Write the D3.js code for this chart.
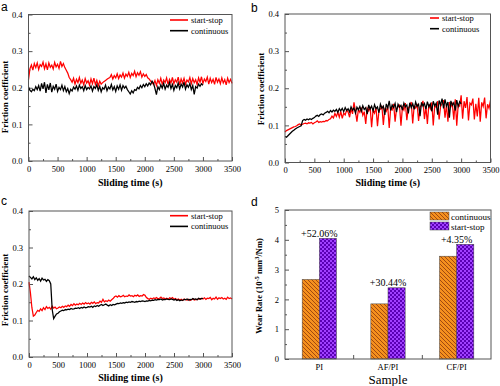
<!DOCTYPE html>
<html>
<head>
<meta charset="utf-8">
<script src="https://cdn.jsdelivr.net/npm/d3@7/dist/d3.min.js"></script>
<style>
    body { margin: 0; background: #fff; }
    text { font-family: "Liberation Serif", "Times New Roman", serif; }
    .tick text { font-size: 8.5px; fill: #000; font-family: "Liberation Serif", "Times New Roman", serif; }
    .tick line { stroke: #555; }
</style>
</head>
<body>
<div id="chart"></div>
<script>
// friction coefficient, one reading every 25 s
var timeStep = 25;

var aStartStop = [
    .222,.252,.262,.248,.266,.255,.268,.250,.263,.258,.270,.252,.265,.249,.268,.256,.262,.251,.269,.257,
    .264,.253,.272,.258,.266,.255,.248,.240,.228,.222,.215,.226,.210,.223,.214,.228,.212,.221,.208,.225,
    .213,.219,.207,.224,.211,.226,.209,.220,.205,.218,.210,.214,.217,.220,.223,.226,.228,.236,.224,.233,
    .227,.238,.225,.235,.229,.240,.226,.237,.231,.242,.228,.239,.233,.245,.230,.241,.234,.244,.229,.238,
    .231,.236,.227,.224,.218,.214,.209,.220,.206,.222,.212,.226,.210,.221,.214,.227,.209,.223,.213,.228,
    .211,.222,.215,.229,.208,.224,.213,.226,.210,.221,.216,.228,.211,.225,.214,.222,.209,.227,.215,.230,
    .212,.224,.217,.229,.210,.226,.214,.223,.209,.228,.215,.224,.211,.227,.213,.222,.208,.226,.214,.223,
    .212];
var aContinuous = [
    .202,.193,.189,.196,.192,.203,.195,.206,.191,.212,.197,.215,.186,.209,.194,.213,.188,.204,.196,.210,
    .190,.201,.195,.207,.192,.203,.189,.198,.184,.196,.191,.202,.196,.205,.193,.207,.198,.203,.192,.206,
    .195,.201,.197,.205,.191,.203,.198,.208,.193,.204,.189,.200,.196,.207,.192,.202,.197,.209,.194,.203,
    .190,.205,.196,.208,.193,.206,.199,.204,.195,.189,.183,.192,.186,.195,.193,.201,.197,.206,.200,.209,
    .203,.211,.205,.213,.208,.218,.212,.198,.181,.203,.195,.208,.199,.212,.196,.207,.201,.214,.198,.209,
    .193,.206,.200,.213,.197,.210,.202,.215,.196,.208,.201,.212,.195,.206,.182,.203,.199,.210,.204,.211,
    .207];

var bStartStop = [
    .082,.086,.088,.090,.092,.094,.096,.097,.099,.102,.104,.101,.103,.105,.106,.104,.107,.106,.108,.104,
    .107,.109,.112,.108,.110,.109,.111,.110,.113,.112,.116,.118,.125,.120,.132,.124,.135,.122,.138,.119,
    .133,.128,.141,.136,.122,.145,.131,.162,.138,.110,.143,.135,.148,.127,.137,.104,.146,.139,.150,.095,
    .141,.133,.148,.098,.139,.144,.153,.101,.144,.138,.151,.093,.147,.142,.158,.110,.145,.149,.154,.099,
    .149,.141,.160,.114,.146,.152,.163,.105,.152,.147,.158,.112,.149,.155,.166,.117,.150,.104,.157,.145,
    .162,.100,.153,.149,.165,.116,.151,.158,.168,.121,.155,.110,.163,.150,.158,.115,.170,.099,.156,.152,
    .181,.118,.165,.147,.176,.113,.160,.155,.172,.116,.158,.124,.174,.110,.162,.151,.175,.119,.157,.146,
    .168];
var bContinuous = [
    .070,.068,.072,.076,.080,.084,.087,.090,.093,.095,.097,.099,.113,.116,.114,.117,.115,.118,.116,.119,
    .121,.125,.127,.124,.129,.131,.128,.133,.135,.138,.134,.140,.136,.141,.138,.143,.135,.145,.139,.146,
    .137,.148,.140,.145,.136,.150,.141,.147,.133,.149,.142,.151,.138,.153,.143,.148,.130,.155,.144,.152,
    .139,.156,.145,.150,.134,.157,.146,.152,.128,.158,.147,.166,.140,.155,.148,.159,.136,.157,.149,.154,
    .141,.160,.150,.155,.132,.161,.148,.158,.143,.163,.151,.157,.125,.162,.152,.159,.144,.164,.150,.158,
    .138,.165,.153,.160,.129,.167,.155,.172,.146,.170,.152,.163,.121,.166,.154,.161,.140,.168,.151,.164,
    .158];

var cStartStop = [
    .205,.175,.135,.112,.115,.122,.128,.125,.132,.127,.135,.130,.138,.133,.136,.131,.139,.134,.137,.132,
    .134,.137,.135,.139,.136,.140,.138,.142,.139,.144,.141,.146,.142,.145,.143,.147,.144,.148,.145,.149,
    .146,.148,.145,.150,.147,.151,.146,.149,.148,.153,.150,.158,.151,.154,.152,.156,.153,.157,.160,.165,
    .167,.164,.168,.165,.166,.169,.165,.167,.166,.170,.167,.168,.165,.169,.167,.170,.166,.168,.167,.171,
    .169,.163,.160,.158,.161,.159,.162,.160,.163,.159,.161,.164,.160,.162,.159,.161,.158,.162,.160,.163,
    .158,.160,.157,.159,.156,.158,.155,.159,.157,.156,.158,.155,.157,.159,.156,.158,.157,.160,.158,.161,
    .159,.162,.158,.161,.160,.163,.157,.161,.159,.164,.158,.162,.160,.163,.159,.161,.158,.164,.160,.162,
    .159];
var cContinuous = [
    .222,.218,.214,.220,.212,.217,.210,.215,.208,.216,.211,.213,.207,.212,.209,.200,.130,.105,.112,.118,
    .120,.124,.126,.128,.127,.130,.129,.131,.130,.133,.131,.132,.134,.133,.135,.133,.136,.134,.137,.135,
    .136,.138,.137,.139,.136,.140,.138,.141,.139,.142,.144,.141,.143,.145,.142,.140,.143,.141,.144,.143,
    .145,.147,.146,.148,.147,.149,.148,.150,.149,.151,.150,.152,.151,.150,.152,.151,.153,.152,.154,.153,
    .152,.154,.153,.155,.154,.156,.155,.157,.156,.158,.157,.159,.156,.158,.157,.159,.158,.157,.159,.158,
    .156,.158,.155,.157,.154,.156,.155,.158,.157,.159,.156,.158,.157,.160,.158,.159,.157,.161,.159,.160,
    .161];

// wear rate, 10^-5 mm^3/Nm
var samples = ["PI", "AF/PI", "CF/PI"];
var wearContinuous = [2.67, 1.85, 3.45];
var wearStartStop = [4.05, 2.39, 3.85];
var wearIncrease = ["+52.06%", "+30.44%", "+4.35%"];
var modes = ["continuous", "start-stop"];

var serif = "Liberation Serif, Times New Roman, serif";

var svg = d3.select("#chart").append("svg")
    .attr("width", 500)
    .attr("height", 386);

// hatch for continuous bars
var defs = svg.append("defs");
var hatch = defs.append("pattern")
    .attr("id", "hatch")
    .attr("patternUnits", "userSpaceOnUse")
    .attr("width", 4).attr("height", 4);
hatch.append("rect").attr("width", 4).attr("height", 4).attr("fill", "#f5901e");
hatch.append("path")
    .attr("d", "M-1,3 l2,2 M0,0 l4,4 M3,-1 l2,2")
    .attr("stroke", "#a04a10").attr("stroke-width", 1);

// checks for start-stop bars
var checks = defs.append("pattern")
    .attr("id", "checks")
    .attr("patternUnits", "userSpaceOnUse")
    .attr("width", 4).attr("height", 4);
checks.append("rect").attr("width", 4).attr("height", 4).attr("fill", "#a040ff");
checks.append("rect").attr("width", 2).attr("height", 2).attr("fill", "#5a00b4");
checks.append("rect").attr("x", 2).attr("y", 2).attr("width", 2).attr("height", 2).attr("fill", "#5a00b4");

function styleAxis(sel) {
    sel.attr("font-family", serif).attr("font-size", 8.5);
    sel.select(".domain").remove();
}

function frictionPanel(box, ss, cont, opt) {
    var x = d3.scaleLinear().domain([0, 3500]).range([box.left, box.right]);
    var y = d3.scaleLinear().domain([0, 0.4]).range([box.bottom, box.top]);
    var g = svg.append("g");

    // minor ticks
    g.append("g")
        .attr("transform", "translate(0," + box.bottom + ")")
        .call(d3.axisBottom(x).tickValues(d3.range(250, 3500, 500)).tickSize(-2).tickFormat(""))
        .call(styleAxis);
    g.append("g")
        .attr("transform", "translate(" + box.left + ",0)")
        .call(d3.axisLeft(y).tickValues([0.05, 0.15, 0.25, 0.35]).tickSize(-2).tickFormat(""))
        .call(styleAxis);

    // major ticks
    g.append("g")
        .attr("transform", "translate(0," + box.bottom + ")")
        .call(d3.axisBottom(x).tickValues(d3.range(0, 3501, 500)).tickSizeInner(-4).tickSizeOuter(0)
            .tickPadding(4.5).tickFormat(d3.format("d")))
        .call(styleAxis);
    g.append("g")
        .attr("transform", "translate(" + box.left + ",0)")
        .call(d3.axisLeft(y).tickValues([0, 0.1, 0.2, 0.3, 0.4]).tickSizeInner(-4).tickSizeOuter(0)
            .tickPadding(6).tickFormat(d3.format(".1f")))
        .call(styleAxis);

    var line = d3.line()
        .x(function (d, i) { return x(i * timeStep); })
        .y(function (d) { return y(d); });

    g.append("path").datum(ss)
        .attr("fill", "none").attr("stroke", "#ff0000").attr("stroke-width", 1.25)
        .attr("d", line);
    g.append("path").datum(cont)
        .attr("fill", "none").attr("stroke", "#000").attr("stroke-width", 1.25)
        .attr("d", line);

    g.append("rect")
        .attr("x", box.left).attr("y", box.top)
        .attr("width", box.right - box.left).attr("height", box.bottom - box.top)
        .attr("fill", "none").attr("stroke", "#555").attr("stroke-width", 1);

    // legend
    var items = [{name: "start-stop", color: "#ff0000"}, {name: "continuous", color: "#000"}];
    var legend = g.selectAll(".legend")
        .data(items)
        .enter().append("g")
        .attr("transform", function (d, i) {
            return "translate(0," + (opt.legendY + i * 10.7) + ")";
        });
    legend.append("line")
        .attr("x1", opt.legendX).attr("x2", opt.legendX + opt.legendLen)
        .attr("stroke", function (d) { return d.color; })
        .attr("stroke-width", 1.6);
    legend.append("text")
        .attr("x", opt.legendX + opt.legendLen + 3)
        .attr("dy", "0.33em")
        .style("font-size", "8.5px")
        .text(function (d) { return d.name; });

    // axis titles
    g.append("text")
        .attr("x", (box.left + box.right) / 2)
        .attr("y", opt.xTitleY)
        .attr("text-anchor", "middle")
        .attr("font-weight", "bold")
        .style("font-size", "10px")
        .text("Sliding time (s)");
    g.append("text")
        .attr("transform", "translate(" + opt.yTitleX + "," + opt.yTitleY + ") rotate(-90)")
        .attr("text-anchor", "middle")
        .attr("font-weight", "bold")
        .style("font-size", "9px")
        .text("Friction coefficient");

    g.append("text")
        .attr("x", opt.letterX).attr("y", opt.letterY)
        .style("font-family", "Liberation Sans, Arial, sans-serif")
        .style("font-size", "12px")
        .text(opt.letter);
}

frictionPanel({left: 28.5, right: 232, top: 14.5, bottom: 161}, aStartStop, aContinuous,
    {legendX: 170, legendLen: 18, legendY: 20, xTitleY: 186, yTitleX: 8, yTitleY: 97,
        letter: "a", letterX: 1, letterY: 11});
frictionPanel({left: 285, right: 490.5, top: 14, bottom: 162.5}, bStartStop, bContinuous,
    {legendX: 430, legendLen: 9, legendY: 18, xTitleY: 186, yTitleX: 263.5, yTitleY: 89,
        letter: "b", letterX: 251, letterY: 12});
frictionPanel({left: 29, right: 232, top: 211, bottom: 357}, cStartStop, cContinuous,
    {legendX: 170, legendLen: 18, legendY: 215.7, xTitleY: 381, yTitleX: 8, yTitleY: 290,
        letter: "c", letterX: 1, letterY: 205});

// panel d: wear rate bars
var dBox = {left: 285, right: 491, top: 210, bottom: 359};
var xd = d3.scaleBand().domain(samples).range([dBox.left, dBox.right])
    .paddingInner(0.5).paddingOuter(0.25);
var xm = d3.scaleBand().domain(modes).range([0, xd.bandwidth()]);
var yd = d3.scaleLinear().domain([0, 5]).range([dBox.bottom, dBox.top]);
var fills = {"continuous": "url(#hatch)", "start-stop": "url(#checks)"};

var gd = svg.append("g");

gd.append("g")
    .attr("transform", "translate(" + dBox.left + ",0)")
    .call(d3.axisLeft(yd).tickValues([0.5, 1.5, 2.5, 3.5, 4.5]).tickSize(-2).tickFormat(""))
    .call(styleAxis);
gd.append("g")
    .attr("transform", "translate(" + dBox.left + ",0)")
    .call(d3.axisLeft(yd).ticks(5).tickSizeInner(-4).tickSizeOuter(0).tickPadding(6))
    .call(styleAxis);
gd.append("g")
    .attr("transform", "translate(0," + dBox.bottom + ")")
    .call(d3.axisBottom(xd).tickSize(0).tickPadding(5))
    .call(styleAxis);

// separators between sample groups
var seps = samples.slice(1).map(function (s, i) {
    return (xd(samples[i]) + xd.bandwidth() + xd(s)) / 2;
});
gd.selectAll(".sep")
    .data(seps)
    .enter().append("line")
    .attr("x1", function (d) { return d; })
    .attr("x2", function (d) { return d; })
    .attr("y1", dBox.bottom).attr("y2", dBox.bottom - 4)
    .attr("stroke", "#555");

var barData = [];
samples.forEach(function (s, i) {
    barData.push({sample: s, mode: "continuous", value: wearContinuous[i]});
    barData.push({sample: s, mode: "start-stop", value: wearStartStop[i]});
});

gd.selectAll(".bar")
    .data(barData)
    .enter().append("rect")
    .attr("class", "bar")
    .attr("x", function (d) { return xd(d.sample) + xm(d.mode); })
    .attr("y", function (d) { return yd(d.value); })
    .attr("width", xm.bandwidth())
    .attr("height", function (d) { return yd(0) - yd(d.value); })
    .attr("fill", function (d) { return fills[d.mode]; })
    .attr("stroke", "#444")
    .attr("stroke-width", 0.5);

gd.selectAll(".pct")
    .data(samples)
    .enter().append("text")
    .attr("x", function (d) { return xd(d) + xd.bandwidth() / 2; })
    .attr("y", function (d, i) { return yd(wearStartStop[i]) - 1.5; })
    .attr("text-anchor", "middle")
    .style("font-size", "10px")
    .text(function (d, i) { return wearIncrease[i]; });

gd.append("rect")
    .attr("x", dBox.left).attr("y", dBox.top)
    .attr("width", dBox.right - dBox.left).attr("height", dBox.bottom - dBox.top)
    .attr("fill", "none").attr("stroke", "#555");

var legendD = gd.selectAll(".legend-d")
    .data(modes)
    .enter().append("g")
    .attr("transform", function (d, i) {
        return "translate(430," + (212 + i * 10) + ")";
    });
legendD.append("rect")
    .attr("width", 19).attr("height", 8)
    .attr("fill", function (d) { return fills[d]; })
    .attr("stroke", "#444").attr("stroke-width", 0.5);
legendD.append("text")
    .attr("x", 21).attr("y", 7.5)
    .style("font-size", "9px")
    .text(function (d) { return d; });

gd.append("text")
    .attr("x", (dBox.left + dBox.right) / 2)
    .attr("y", 384)
    .attr("text-anchor", "middle")
    .style("font-size", "13px")
    .text("Sample");

var yTitle = gd.append("text")
    .attr("transform", "translate(262,286) rotate(-90)")
    .attr("text-anchor", "middle")
    .attr("font-weight", "bold")
    .style("font-size", "8.5px");
yTitle.append("tspan").text("Wear Rate (10");
yTitle.append("tspan").attr("dy", -3.5).style("font-size", "6.5px").text("-5");
yTitle.append("tspan").attr("dy", 3.5).text(" mm");
yTitle.append("tspan").attr("dy", -3.5).style("font-size", "6.5px").text("3");
yTitle.append("tspan").attr("dy", 3.5).text("/Nm)");

gd.append("text")
    .attr("x", 251).attr("y", 206)
    .style("font-family", "Liberation Sans, Arial, sans-serif")
    .style("font-size", "12px")
    .text("d");
</script>
</body>
</html>
